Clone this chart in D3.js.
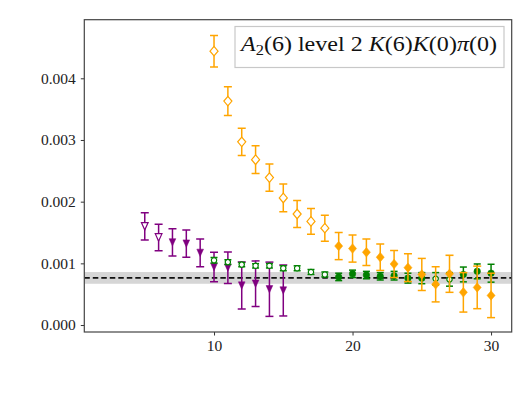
<!DOCTYPE html>
<html>
<head>
<meta charset="utf-8">
<script src="https://cdn.jsdelivr.net/npm/d3@7"></script>
<style>
  body { margin: 0; background: #fff; }
  svg { display: block; }
</style>
</head>
<body>
<div id="chart"></div>
<script>
/* CONSTANTS AND GLOBALS */
const width = 532,
  height = 399,
  margin = { top: 19.7, bottom: 67, left: 84.3, right: 20.3 };

/* DATA */
// orange: diamonds, open for t=10..18, filled after
const orangeOpenT = [10, 11, 12, 13, 14, 15, 16, 17, 18];
const orangeOpenVal = [0.00444, 0.00363, 0.00297, 0.00268, 0.00239, 0.00206, 0.00180, 0.00168, 0.00157];
const orangeOpenErr = [0.000255, 0.000235, 0.00022, 0.000225, 0.00022, 0.000225, 0.00022, 0.00021, 0.00021];

const orangeT = [19, 20, 21, 22, 23, 24, 25, 26, 27, 28, 29, 30];
const orangeVal = [0.00128, 0.00124, 0.00118, 0.00110, 0.00099, 0.00093, 0.00082, 0.00066, 0.00083, 0.00053, 0.00061, 0.00048];
const orangeErr = [0.00022, 0.00022, 0.000215, 0.000215, 0.00022, 0.000225, 0.00026, 0.000285, 0.0003, 0.00032, 0.000345, 0.00036];

// purple: down triangles
const purpleOpenT = [5, 6];
const purpleOpenVal = [0.00160, 0.00142];
const purpleOpenErr = [0.00022, 0.000215];

const purpleT = [7, 8, 9, 10, 11, 12, 13, 14, 15];
const purpleVal = [0.00134, 0.00132, 0.00117, 0.00094, 0.00093, 0.00064, 0.00067, 0.00058, 0.00056];
const purpleErr = [0.00022, 0.00022, 0.000225, 0.00024, 0.000255, 0.00038, 0.00037, 0.00044, 0.000413];

// green: circles
const greenOpenT = [10, 11, 12, 13, 14, 15, 16, 17, 18, 26, 27];
const greenOpenVal = [0.00105, 0.00102, 0.00098, 0.00096, 0.00096, 0.00092, 0.00092, 0.00086, 0.00082, 0.00075, 0.00074];
const greenOpenErr = [0.000043, 0.00004, 0.000035, 0.000035, 0.000035, 0.00004, 0.00004, 0.00004, 0.00004, 0.0001, 0.00011];

const greenT = [19, 20, 21, 22, 23, 24, 25, 28, 29, 30];
const greenVal = [0.00078, 0.00083, 0.00081, 0.00079, 0.00080, 0.00076, 0.00076, 0.00082, 0.00087, 0.00084];
const greenErr = [0.00006, 0.00006, 0.00006, 0.00006, 0.00007, 0.00008, 0.00009, 0.00012, 0.00012, 0.000145];

// fit result band
const fitVal = 0.000764;
const fitErr = 0.000095;

const xTicks = [10, 20, 30];
const yTicks = [0, 0.001, 0.002, 0.003, 0.004];

/* SCALES */
const xScale = d3.scaleLinear()
  .domain([0.635, 31.49])
  .range([margin.left, width - margin.right]);

const yScale = d3.scaleLinear()
  .domain([-0.000113, 0.00495])
  .range([height - margin.bottom, margin.top]);

/* SVG */
const svg = d3.select("#chart")
  .append("svg")
  .attr("width", width)
  .attr("height", height);

svg.append("clipPath").attr("id", "plot-clip")
  .append("rect")
  .attr("x", margin.left)
  .attr("y", margin.top)
  .attr("width", width - margin.left - margin.right)
  .attr("height", height - margin.top - margin.bottom);

const plot = svg.append("g").attr("clip-path", "url(#plot-clip)");

// band + dashed line
plot.append("rect")
  .attr("x", margin.left)
  .attr("width", width - margin.left - margin.right)
  .attr("y", yScale(fitVal + fitErr))
  .attr("height", yScale(fitVal - fitErr) - yScale(fitVal + fitErr))
  .attr("fill", "#d6d6d6");

plot.append("line")
  .attr("x1", margin.left)
  .attr("x2", width - margin.right)
  .attr("y1", yScale(fitVal))
  .attr("y2", yScale(fitVal))
  .attr("stroke", "#111")
  .attr("stroke-width", 1.6)
  .attr("stroke-dasharray", "5.5,3");

// draws one series: error bars with caps, then markers
function drawSeries(ts, vals, errs, color, symbol, size, filled, capW) {
  const data = ts.map((t, i) => ({ t: t, v: vals[i], e: errs[i] }));
  const g = plot.append("g");

  g.selectAll("line.bar")
    .data(data)
    .join("line")
    .attr("class", "bar")
    .attr("x1", d => xScale(d.t))
    .attr("x2", d => xScale(d.t))
    .attr("y1", d => yScale(d.v - d.e))
    .attr("y2", d => yScale(d.v + d.e))
    .attr("stroke", color)
    .attr("stroke-width", 1.5);

  ["lo", "hi"].forEach(side => {
    g.selectAll("line.cap-" + side)
      .data(data)
      .join("line")
      .attr("class", "cap-" + side)
      .attr("x1", d => xScale(d.t) - capW / 2)
      .attr("x2", d => xScale(d.t) + capW / 2)
      .attr("y1", d => yScale(side === "lo" ? d.v - d.e : d.v + d.e))
      .attr("y2", d => yScale(side === "lo" ? d.v - d.e : d.v + d.e))
      .attr("stroke", color)
      .attr("stroke-width", 1.5);
  });

  g.selectAll("path.mark")
    .data(data)
    .join("path")
    .attr("class", "mark")
    .attr("d", d3.symbol().type(symbol).size(size))
    .attr("transform", d => `translate(${xScale(d.t)},${yScale(d.v)})`)
    .attr("fill", filled ? color : "#fff")
    .attr("stroke", color)
    .attr("stroke-width", filled ? 0.5 : 1.2);
}

// downward triangle symbol
const triDown = {
  draw(context, size) {
    const s = Math.sqrt(size) * 0.62;
    context.moveTo(0, s);
    context.lineTo(-s * 0.9, -s);
    context.lineTo(s * 0.9, -s);
    context.closePath();
  }
};

// diamond a bit narrower than tall
const diamond = {
  draw(context, size) {
    const h = Math.sqrt(size) * 0.5;
    const w = h * 0.85;
    context.moveTo(0, -h);
    context.lineTo(w, 0);
    context.lineTo(0, h);
    context.lineTo(-w, 0);
    context.closePath();
  }
};

drawSeries(purpleOpenT, purpleOpenVal, purpleOpenErr, "purple", triDown, 36, false, 8);
drawSeries(purpleT, purpleVal, purpleErr, "purple", triDown, 36, true, 8);
drawSeries(greenOpenT, greenOpenVal, greenOpenErr, "green", d3.symbolCircle, 22, false, 7);
drawSeries(greenT, greenVal, greenErr, "green", d3.symbolCircle, 34, true, 7);
drawSeries(orangeOpenT, orangeOpenVal, orangeOpenErr, "orange", diamond, 90, false, 8);
drawSeries(orangeT, orangeVal, orangeErr, "orange", diamond, 90, true, 8);

/* AXES */
const xAxis = d3.axisBottom(xScale).tickValues(xTicks).tickSizeOuter(0).tickSize(3.5).tickPadding(4);
const yAxis = d3.axisLeft(yScale).tickValues(yTicks).tickSizeOuter(0).tickSize(3.5).tickPadding(5)
  .tickFormat(d3.format(".3f"));

function styleAxis(g) {
  g.attr("font-family", "Liberation Serif, serif").attr("font-size", 15.5);
  g.select(".domain").remove();
  g.selectAll(".tick line").attr("stroke", "#333");
  g.selectAll(".tick text").attr("fill", "#222");
}

svg.append("g")
  .attr("class", "axis x-axis")
  .attr("transform", `translate(0,${height - margin.bottom})`)
  .call(xAxis)
  .call(styleAxis);

svg.append("g")
  .attr("class", "axis y-axis")
  .attr("transform", `translate(${margin.left},0)`)
  .call(yAxis)
  .call(styleAxis);

// frame
svg.append("rect")
  .attr("x", margin.left)
  .attr("y", margin.top)
  .attr("width", width - margin.left - margin.right)
  .attr("height", height - margin.top - margin.bottom)
  .attr("fill", "none")
  .attr("stroke", "#444")
  .attr("stroke-width", 1.2);

/* LEGEND */
svg.append("rect")
  .attr("x", 235)
  .attr("y", 26.5)
  .attr("width", 269)
  .attr("height", 41)
  .attr("fill", "#fff")
  .attr("fill-opacity", 0.8)
  .attr("stroke", "#c8c8c8")
  .attr("stroke-width", 1.2);

const label = svg.append("text")
  .attr("x", 241)
  .attr("y", 51)
  .attr("font-family", "Liberation Serif, serif")
  .attr("font-size", 22)
  .attr("fill", "#111")
  .attr("textLength", 256)
  .attr("lengthAdjust", "spacingAndGlyphs");

const parts = [
  { s: "A", it: true },
  { s: "2", sub: true },
  { s: "(6) level 2 " },
  { s: "K", it: true },
  { s: "(6)" },
  { s: "K", it: true },
  { s: "(0)" },
  { s: "π", it: true },
  { s: "(0)" }
];
parts.forEach(p => {
  const ts = label.append("tspan").text(p.s);
  if (p.it) ts.attr("font-style", "italic");
  if (p.sub) ts.attr("font-size", 15).attr("dy", 4);
  if (p.s === "(6) level 2 ") ts.attr("dy", -4);
});
</script>
</body>
</html>
